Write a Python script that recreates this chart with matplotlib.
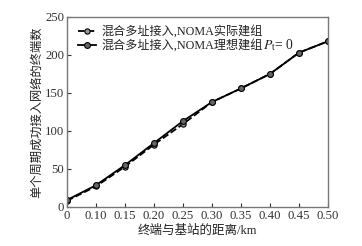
import numpy as np
import matplotlib
matplotlib.use('Agg')
from matplotlib import pyplot as plt

plt.rcParams['font.family'] = ['Liberation Serif', 'Noto Sans CJK SC']
plt.rcParams['mathtext.fontset'] = 'stix'

x_labels = ['0', '0.10', '0.15', '0.20', '0.25', '0.30', '0.35', '0.40', '0.45', '0.50']
y_actual = [8, 27, 53, 82, 109, 138, 156, 175, 203, 218]
y_ideal = [9, 28.5, 55, 84, 113, 138, 156, 175, 203, 218]
x = np.arange(len(x_labels))

fig = plt.figure(figsize=(3.62, 2.46), dpi=100)
ax = fig.add_axes([0.185, 0.159, 0.721, 0.772])

ax.plot(x, y_actual, '--', color='black', lw=1.3, marker='o', ms=3.8,
        mfc='#999999', mec='black', mew=0.8, label='混合多址接入,NOMA实际建组')
ax.plot(x, y_ideal, '-', color='black', lw=1.3, marker='o', ms=4.2,
        mfc='#666666', mec='black', mew=0.8,
        label='混合多址接入,NOMA理想建组')

ax.set_xlim(0, len(x_labels) - 1)
ax.set_ylim(0, 250)
ax.set_xticks(x)
ax.set_xticklabels(x_labels)
ax.set_yticks([0, 50, 100, 150, 200, 250])
ax.tick_params(direction='in', length=3, labelsize=9.2, pad=2, colors='#333333')
for s in ax.spines.values():
    s.set_color('#777777')
    s.set_linewidth(1.0)

ax.set_xlabel('终端与基站的距离/km', fontsize=9, labelpad=2, color='#222222')
ax.set_ylabel('单个周期成功接入网络的终端数', fontsize=8.8, labelpad=1, color='#222222')

leg = ax.legend(loc='upper left', bbox_to_anchor=(0.02, 0.99), frameon=False,
                fontsize=8.7, handlelength=1.5, handletextpad=0.4,
                borderaxespad=0.1, labelspacing=0.1)
for t in leg.get_texts():
    t.set_color('#222222')

# P_t = 0 appended after the second legend label (mathtext has no CJK fallback)
fig.canvas.draw()
bb = leg.get_texts()[1].get_window_extent().transformed(fig.transFigure.inverted())
fig.text(bb.x1 + 0.002, (bb.y0 + bb.y1) / 2, '$P_\\mathrm{t}$= 0',
         va='center', ha='left', fontsize=9.8, color='#222222')

fig.savefig('out.png', dpi=100)
